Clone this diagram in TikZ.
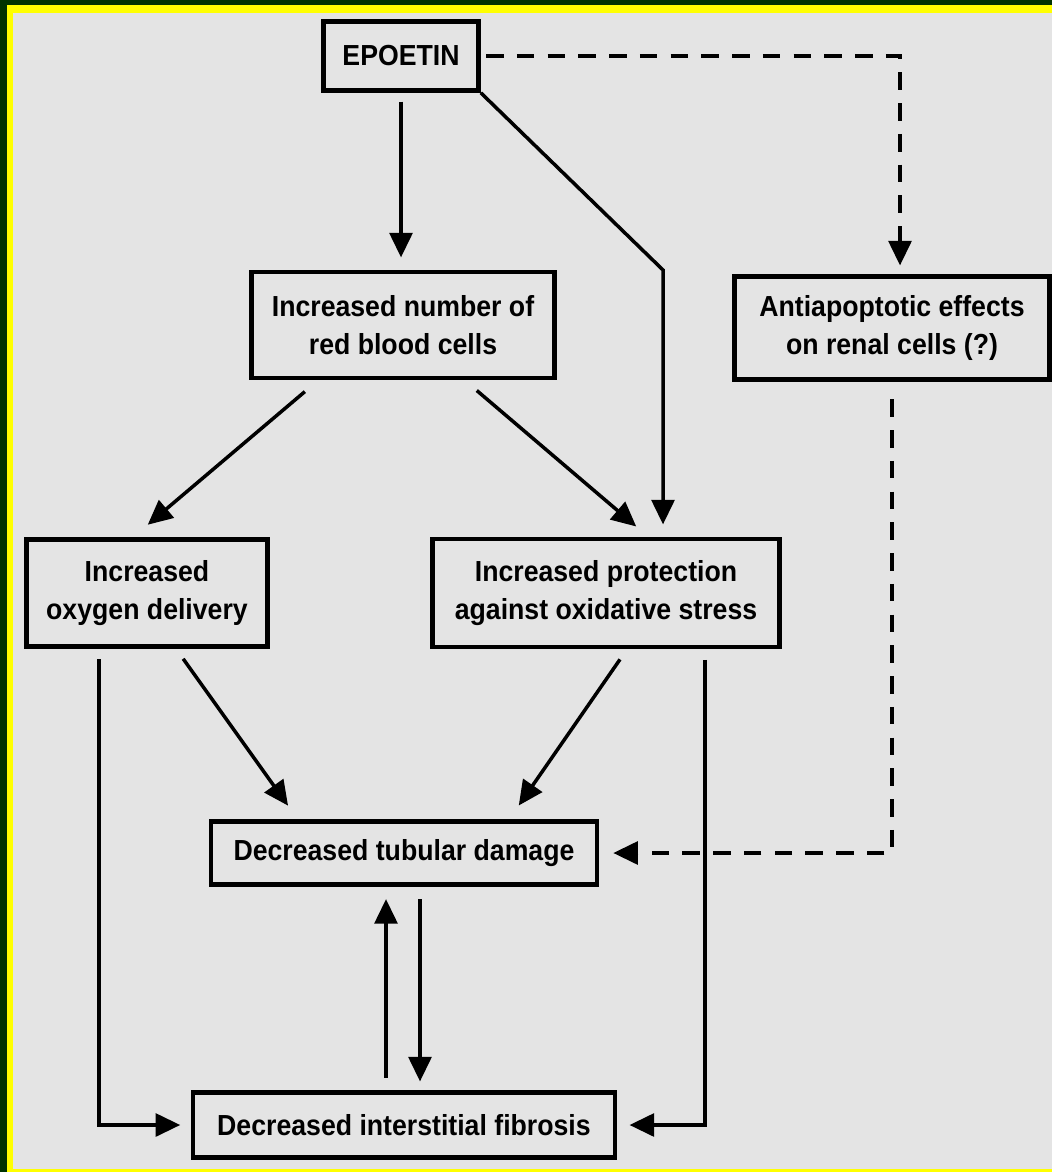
\documentclass[tikz,border=0pt]{standalone}
\usepackage{fontspec}
\setmainfont{Liberation Sans}[FakeStretch=0.92]
\usepackage{xcolor}
\usepackage{tikz}
\usetikzlibrary{arrows.meta,calc}
\definecolor{epogreen}{HTML}{003300}
\definecolor{epoyellow}{HTML}{FFFF00}
\definecolor{epogray}{HTML}{E4E4E4}

\begin{document}
\begin{tikzpicture}[x=0.02cm, y=-0.02cm,
  box/.style={draw=black,line width=2.6pt,fill=epogray,align=center,inner sep=0pt,
    font=\fontsize{16.5}{22}\selectfont\bfseries},
  arr/.style={draw=black,line width=2pt,-{Triangle[length=14pt,width=13pt]}},
  dsh/.style={arr,dash pattern=on 10pt off 7.5pt}]
\useasboundingbox (0,0) rectangle (1052,1172);
\fill[epogreen] (0,0) rectangle (1052,1172);
\fill[epoyellow] (7,5) rectangle (1052,1172);
\fill[epogray] (13,13) rectangle (1052,1169);
% boxes
\node[box,minimum width=3.1cm,minimum height=1.38cm] (epo) at (401,56) {EPOETIN};
\node[box,minimum width=6.06cm,minimum height=2.12cm] (rbc) at (403,325) {Increased number of\\red blood cells};
\node[box,minimum width=6.3cm,minimum height=2.06cm] (anti) at (892,328) {Antiapoptotic effects\\on renal cells (?)};
\node[box,minimum width=4.82cm,minimum height=2.14cm] (oxy) at (147,593) {Increased\\oxygen delivery};
\node[box,minimum width=6.94cm,minimum height=2.16cm] (prot) at (606,593) {Increased protection\\against oxidative stress};
\node[box,minimum width=7.72cm,minimum height=1.26cm] (tub) at (404,853) {Decreased tubular damage};
\node[box,minimum width=8.44cm,minimum height=1.3cm] (fib) at (404,1125) {Decreased interstitial fibrosis};
\coordinate (bend) at (663,270);
\coordinate (dtop) at (900,56);
% connectors
\draw[arr,shorten <=5pt,shorten >=7pt] (epo.south) -- (epo.south |- rbc.north);
\draw[arr,shorten >=7pt] (epo.south east) -- (bend) -- (bend |- prot.north);
\draw[dsh,shorten <=3pt,shorten >=5pt] (epo.east) -- (dtop) -- (dtop |- anti.north);
\draw[dsh,shorten <=10pt,shorten >=8pt] (anti.south) |- (tub.east);
\draw[arr,shorten <=10pt,shorten >=11pt] ($(rbc.south west)+(69,0)$) -- ($(oxy.north)+(-14,0)$);
\draw[arr,shorten <=9pt,shorten >=9pt] ($(rbc.south east)+(-92,0)$) -- ($(prot.north west)+(218,0)$);
\draw[arr,shorten <=7pt,shorten >=9.5pt] ($(oxy.south)+(29,0)$) -- ($(tub.north west)+(89,0)$);
\draw[arr,shorten <=7pt,shorten >=9.5pt] ($(prot.south)+(21,0)$) -- ($(tub.north east)+(-90,0)$);
\draw[arr,shorten <=6pt,shorten >=6pt] ($(oxy.south west)+(75,0)$) |- (fib.west);
\draw[arr,shorten <=6pt,shorten >=7pt] ($(prot.south east)+(-77,0)$) |- (fib.east);
\draw[arr,shorten <=7pt,shorten >=7pt] ($(fib.north)+(-18,0)$) -- ($(tub.south)+(-18,0)$);
\draw[arr,shorten <=7pt,shorten >=5pt] ($(tub.south)+(16,0)$) -- ($(fib.north)+(16,0)$);
\end{tikzpicture}
\end{document}
